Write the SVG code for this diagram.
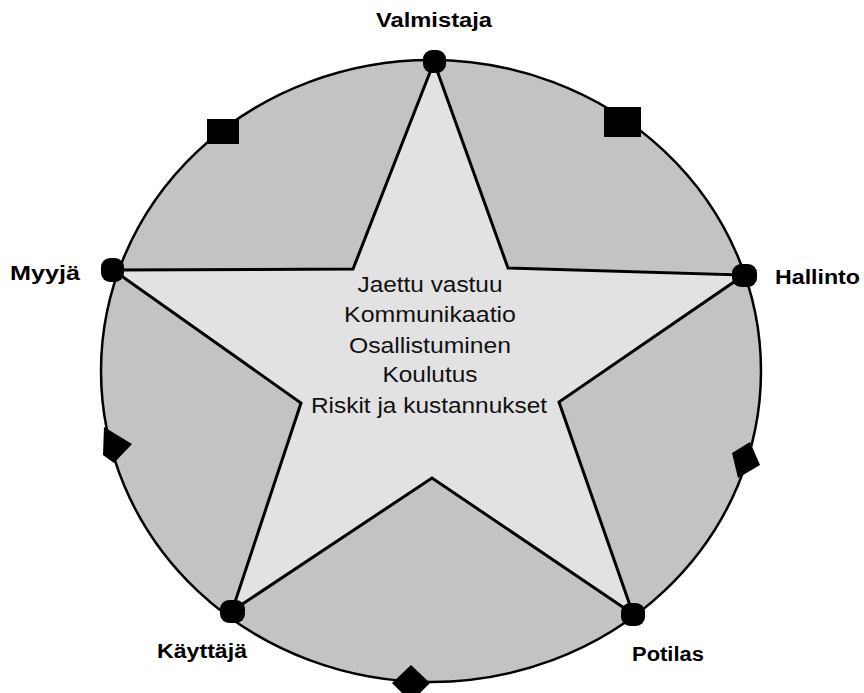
<svg xmlns="http://www.w3.org/2000/svg" width="864" height="693" viewBox="0 0 864 693">
<style>
.bg{fill:#c3c3c3;stroke:#000;stroke-width:2.5}
.star{fill:#e2e2e2;stroke:#000;stroke-width:3;stroke-linejoin:miter}
.dot{fill:#000}
.mark{fill:#000}
.lbl{font-family:"Liberation Sans",Arial,sans-serif;font-weight:bold;font-size:20px;fill:#000}
.ctr{font-family:"Liberation Sans",Arial,sans-serif;font-size:22px;fill:#111;text-anchor:middle}
</style>
<rect width="864" height="693" fill="#fff"/>
<g id="circle">
<ellipse class="bg" cx="431" cy="371" rx="330" ry="311"/>
</g>
<g id="connectors">
<polygon class="star" points="434,62 508,268 744,275 559,402 633,614 432,478 232,611 301,403 113,270 353,269"/>
</g>
<g id="marks">
<rect class="mark" x="207" y="119" width="32" height="25"/>
<rect class="mark" x="604" y="107" width="37" height="30"/>
<polygon class="mark" points="104,427 132,444 114,463 103,455"/>
<polygon class="mark" points="732,453 750,442 760,465 738,478"/>
<polygon class="mark" points="411,665 430,683 411,702 392,683"/>
</g>
<g id="valmistaja">
<rect class="dot" x="423" y="50" width="23" height="23" rx="9"/>
<text class="lbl" x="376" y="27" textLength="116" lengthAdjust="spacingAndGlyphs">Valmistaja</text>
</g>
<g id="hallinto">
<rect class="dot" x="732" y="264" width="25" height="23" rx="9"/>
<text class="lbl" x="775" y="284" textLength="85" lengthAdjust="spacingAndGlyphs">Hallinto</text>
</g>
<g id="potilas">
<rect class="dot" x="621" y="603" width="24" height="23" rx="9"/>
<text class="lbl" x="632" y="661" textLength="72" lengthAdjust="spacingAndGlyphs">Potilas</text>
</g>
<g id="kayttaja">
<rect class="dot" x="220" y="600" width="25" height="23" rx="9"/>
<text class="lbl" x="157" y="658" textLength="90" lengthAdjust="spacingAndGlyphs">Käyttäjä</text>
</g>
<g id="myyja">
<rect class="dot" x="101" y="258" width="23" height="24" rx="9"/>
<text class="lbl" x="10" y="280" textLength="70" lengthAdjust="spacingAndGlyphs">Myyjä</text>
</g>
<g id="center">
<text class="ctr" x="430" y="292" textLength="145" lengthAdjust="spacingAndGlyphs">Jaettu vastuu</text>
<text class="ctr" x="430" y="322" textLength="172" lengthAdjust="spacingAndGlyphs">Kommunikaatio</text>
<text class="ctr" x="430" y="353" textLength="162" lengthAdjust="spacingAndGlyphs">Osallistuminen</text>
<text class="ctr" x="430" y="382" textLength="95" lengthAdjust="spacingAndGlyphs">Koulutus</text>
<text class="ctr" x="429" y="413" textLength="236" lengthAdjust="spacingAndGlyphs">Riskit ja kustannukset</text>
</g>
</svg>
